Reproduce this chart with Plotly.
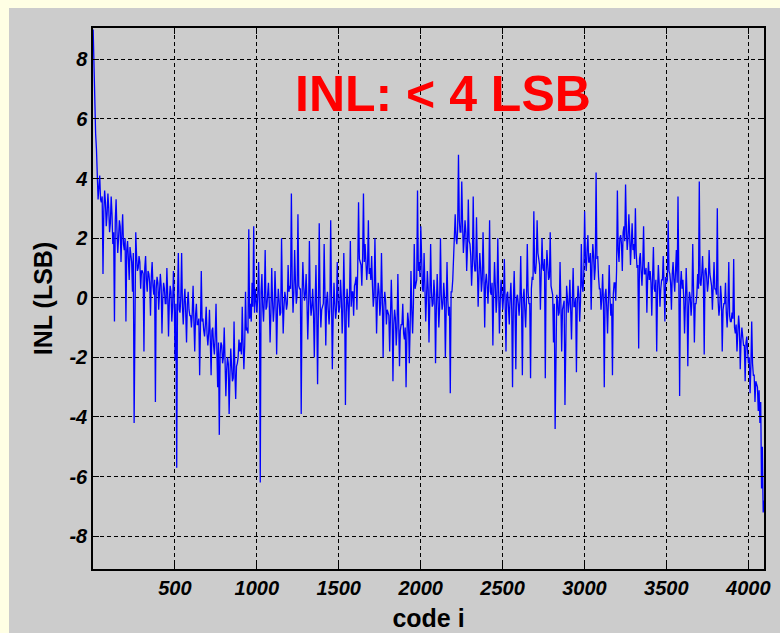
import plotly.graph_objects as go

# INL, two interleaved samplings every 10 codes:
# inl_peaks at codes 1, 11, 21, ... (includes the spikes),
# inl_core  at codes 6, 16, 26, ... (the dense central band)
code_step = 10
inl_peaks = [
    9.0, 6.0, 5.0, 3.3, 4.1, 3.2, 0.8, 3.6, 2.4, 3.5,
    2.2, 3.4, 1.8, -0.8, 3.3, 1.5, 2.6, 1.2, 2.8, 1.6,
    -0.8, 1.9, 0.6, 1.5, 0.2, -4.2, 2.2, 0.9, 1.4, 0.3,
    0.9, -1.8, 1.4, 0.2, 0.8, -0.6, 1.2, 0.1, -3.5, 0.7,
    -0.4, 0.8, -1.2, 0.5, -0.2, 1.0, -1.3, 0.4, -0.8, 0.9,
    -2.1, -5.7, 1.5, -0.5, 1.5, -0.9, 0.3, -1.5, 0.2, -0.6,
    -1.0, 0.4, -1.8, -0.2, -0.9, -2.6, 0.9, -0.7, -1.3, -0.3,
    -1.6, -0.4, -2.6, -1.0, -1.9, -0.2, -3.0, -4.6, -1.5, -2.2,
    -1.0, -3.3, -2.0, -3.9, -1.7, -2.8, -0.8, -3.4, -2.2, -1.4,
    -1.5, -0.3, -2.4, 0.2, -1.0, 2.3, -0.2, 0.5, 2.4, 0.3,
    -0.5, 1.2, -6.2, 0.8, -0.8, 1.6, -0.3, 0.5, -1.5, 1.0,
    -0.8, 0.9, -1.9, 0.3, -0.6, 2.0, -1.2, 0.2, -0.4, 1.1,
    0.4, 3.5, -0.5, 1.6, -0.2, 2.8, 0.3, -3.9, 1.2, -0.1,
    0.8, -1.4, 1.9, -0.6, 0.3, -2.0, 1.1, -2.9, 2.5, -1.0,
    -0.3, 1.8, -1.6, 0.2, -0.9, 2.6, -2.4, 0.5, -0.7, 1.2,
    -0.5, 0.6, -1.2, 1.5, -3.6, 0.3, -1.0, 1.9, 0.2, -0.6,
    0.5, -0.4, 3.2, 1.2, 0.4, 3.5, 1.8, 0.6, 2.6, 1.0,
    1.4, -0.3, 2.0, -1.2, 0.5, -0.6, 1.5, -2.0, 0.2, -0.9,
    -0.5, -1.8, 0.6, -2.8, -0.4, -1.6, 0.8, -2.3, -0.9, -0.2,
    -1.4, -3.0, -0.5, -2.2, 0.9, -1.2, 1.8, 0.5, 3.6, 1.2,
    2.4, 0.3, 1.5, -0.8, 0.9, -1.5, 1.8, -0.3, 0.6, -2.2,
    0.8, -1.0, 2.0, -0.4, 0.5, -2.0, 1.2, -0.6, -3.2, 0.2,
    1.3, 2.8, 1.8, 4.8, 2.2, 3.9, 1.5, 2.6, 0.9, 3.3,
    1.8, 0.4, 3.4, 0.9, 2.7, -0.3, 1.5, 0.2, 2.2, -1.0,
    0.8, -0.2, 2.6, 0.1, -1.6, 1.2, -0.5, 2.0, -1.2, 0.6,
    -0.4, 1.3, -1.8, 0.2, -0.9, 0.5, -3.0, 0.9, -2.4, 0.1,
    -0.6, 1.4, -2.6, 0.3, -1.0, 1.8, -0.2, -2.7, 0.7, 2.9,
    0.8, 2.6, 1.3, -0.4, 2.0, 0.9, -2.7, 1.6, 0.6, 2.2,
    0.2, -1.5, -4.4, 0.1, -0.6, 1.2, -1.8, -0.2, -3.6, 0.4,
    -0.5, 0.6, -1.4, 1.0, -0.3, -2.5, 0.4, -0.8, 1.8, 0.2,
    2.9, 0.9, 2.1, 1.2, -0.4, 1.8, 0.6, 4.2, 1.4, 0.3,
    -0.4, 0.8, -3.0, 0.3, -1.2, 1.1, -0.6, -2.6, 0.5, -0.1,
    3.6, 1.2, 2.1, 0.9, 2.4, 3.8, 1.6, 2.8, 1.1, 2.5,
    1.8, 3.0, 1.0, -1.7, 1.5, 0.4, 2.4, 0.8, -0.5, 1.2,
    0.9, -0.6, 1.7, 0.2, -1.8, 1.1, -0.3, 0.6, 1.4, -0.8,
    0.5, 2.6, 0.8, -0.4, 1.2, 0.2, 1.6, 3.4, -3.3, 0.9,
    0.6, -1.2, 1.0, -2.3, 0.2, -0.6, 1.8, -1.5, -0.2, 0.8,
    3.9, 0.4, 1.4, -1.9, 1.0, 0.2, 1.6, 0.6, -0.4, 1.2,
    0.3, 3.0, -0.6, 0.4, -1.8, -0.2, 0.5, -1.0, 1.2, -0.8,
    -0.5, 1.3, -1.2, -1.8, -0.6, -2.4, -1.0, -1.6, -2.8, -1.3,
    -2.2, -3.2, -0.8, -2.6, -3.5, -2.9, -3.8, -4.2, -6.4, -7.2,
]
inl_core = [
    7.5, 5.5, 4.1, 3.7, 3.3, 3.4, 2.9, 3.2, 2.8, 3.0,
    2.5, 2.8, 2.2, 2.6, 2.3, 2.0, 2.4, 2.1, 1.8, 2.0,
    1.6, 1.3, 1.7, 1.2, 1.5, 1.1, 1.4, 1.0, 1.2, 0.9,
    0.8, 1.0, 0.6, 0.9, 0.5, 0.7, 0.4, 0.6, 0.3, 0.5,
    0.2, 0.4, 0.0, 0.3, -0.2, 0.1, -0.1, 0.2, -0.3, 0.0,
    -0.2, 0.1, -0.4, 0.0, -0.3, -0.1, -0.5, -0.2, -0.4, -0.6,
    -0.5, -0.8, -0.6, -0.9, -0.7, -1.0, -0.8, -1.1, -0.9, -1.2,
    -1.2, -1.4, -1.1, -1.6, -1.3, -1.7, -1.5, -1.9, -1.6, -2.0,
    -2.1, -2.4, -2.2, -2.6, -2.3, -2.7, -2.5, -2.3, -2.0, -1.8,
    -1.9, -1.5, -1.6, -1.1, -1.2, -0.7, -0.8, -0.3, -0.5, -0.1,
    0.1, -0.2, 0.2, -0.3, 0.0, -0.4, 0.1, -0.2, -0.5, -0.1,
    -0.3, 0.0, -0.4, -0.1, -0.5, 0.1, -0.3, 0.0, -0.2, 0.2,
    0.3, 0.6, 0.2, 0.5, 0.1, 0.4, 0.3, 0.0, 0.4, 0.1,
    -0.1, -0.4, 0.0, -0.3, -0.5, -0.2, -0.6, -0.3, -0.1, -0.4,
    -0.2, -0.5, -0.1, -0.4, -0.3, 0.0, -0.6, -0.2, -0.4, -0.1,
    -0.3, 0.0, -0.4, -0.1, -0.5, -0.2, 0.1, -0.3, 0.2, 0.4,
    0.7, 1.0, 1.3, 1.1, 1.4, 1.2, 0.9, 1.1, 0.8, 0.6,
    0.4, 0.1, 0.3, -0.1, 0.2, -0.2, 0.0, -0.3, -0.1, -0.4,
    -0.6, -0.8, -0.5, -0.9, -0.7, -1.0, -0.8, -1.1, -0.9, -1.2,
    -1.0, -1.3, -0.8, -1.0, -0.4, -0.2, 0.3, 0.6, 0.9, 0.7,
    0.5, 0.2, 0.4, 0.0, 0.3, -0.1, 0.2, -0.2, 0.1, -0.3,
    0.0, -0.3, 0.1, -0.2, 0.0, -0.4, -0.1, -0.3, 0.2, 0.6,
    1.5, 2.0, 2.3, 2.6, 2.2, 2.5, 2.0, 2.2, 1.7, 1.9,
    1.4, 1.1, 1.3, 0.9, 1.2, 0.7, 1.0, 0.6, 0.8, 0.5,
    0.4, 0.6, 0.2, 0.5, 0.1, 0.4, 0.0, 0.3, -0.1, 0.2,
    0.0, -0.2, 0.1, -0.3, 0.0, -0.4, -0.1, -0.3, 0.0, -0.2,
    -0.1, -0.3, 0.0, -0.4, -0.1, 0.2, -0.2, 0.3, 0.6, 0.9,
    1.2, 1.5, 1.1, 1.4, 1.0, 1.3, 0.8, 1.1, 0.7, 0.4,
    0.1, -0.2, -0.4, -0.1, -0.5, -0.2, -0.4, -0.1, -0.3, 0.0,
    -0.2, -0.4, -0.1, -0.3, 0.0, -0.2, 0.1, -0.1, 0.4, 0.8,
    1.3, 1.6, 1.2, 1.5, 1.1, 1.4, 1.0, 1.3, 0.7, 0.3,
    0.0, -0.2, 0.1, -0.3, -0.1, 0.0, -0.2, 0.1, 0.5, 0.9,
    1.6, 2.0, 1.8, 2.2, 1.9, 2.3, 2.0, 2.1, 1.8, 1.6,
    1.3, 1.5, 1.1, 1.3, 0.9, 1.1, 0.8, 1.0, 0.7, 0.6,
    0.5, 0.7, 0.3, 0.6, 0.2, 0.5, 0.3, 0.6, 0.4, 0.7,
    0.6, 0.9, 0.5, 0.8, 0.6, 0.9, 0.5, 0.7, 0.4, 0.3,
    0.0, -0.2, 0.1, -0.3, 0.0, -0.1, 0.2, -0.2, 0.1, 0.3,
    0.5, 0.8, 0.6, 0.9, 0.7, 0.5, 0.8, 0.4, 0.6, 0.3,
    0.1, -0.1, -0.3, 0.0, -0.4, -0.2, -0.5, -0.3, -0.6, -0.8,
    -0.7, -1.0, -0.9, -1.2, -1.0, -1.4, -1.3, -1.6, -1.5, -1.8,
    -2.0, -2.3, -2.2, -2.6, -2.8, -3.0, -3.1, -3.5, -5.0, -6.8,
]

x_ticks = [500, 1000, 1500, 2000, 2500, 3000, 3500, 4000]
x_tick_labels = ["500", "1000", "1500", "2000", "2500", "3000", "3500", "4000"]
y_ticks = [-8, -6, -4, -2, 0, 2, 4, 6, 8]
y_tick_labels = ["-8", "-6", "-4", "-2", "0", "2", "4", "6", "8"]

title_text = "INL: < 4 LSB"
x_label = "code i"
y_label = "INL (LSB)"

# interleave the two samplings in code order
codes, inl = [], []
for i, (p, c) in enumerate(zip(inl_peaks, inl_core)):
    codes += [1 + code_step * i, 6 + code_step * i]
    inl += [p, c]

fig = go.Figure()
fig.add_trace(go.Scatter(
    x=codes, y=inl, mode="lines",
    line=dict(color="#0000FF", width=1.3),
    hoverinfo="skip", showlegend=False,
))

tickfont = dict(family="Liberation Sans, Arial, sans-serif", size=20,
                color="#000000", weight="bold", style="italic")
titlefont = dict(family="Liberation Sans, Arial, sans-serif", size=25,
                 color="#000000", weight="bold")

axis_common = dict(
    showline=True, linecolor="#000000", linewidth=1.5, mirror="ticks",
    ticks="inside", ticklen=6, tickwidth=1.2, tickcolor="#000000",
    showgrid=True, gridcolor="#000000", gridwidth=1.3, griddash="4px,3px",
    zeroline=False, tickfont=tickfont,
)

fig.update_xaxes(range=[0, 4096], tickvals=x_ticks, ticktext=x_tick_labels,
                 title=dict(text=x_label, font=titlefont, standoff=12),
                 **axis_common)
fig.update_yaxes(range=[-9.1, 9.05], tickvals=y_ticks, ticktext=y_tick_labels,
                 title=dict(text=y_label, font=titlefont, standoff=10),
                 **axis_common)

fig.add_annotation(x=2134, y=6.83, xref="x", yref="y", text=title_text,
                   showarrow=False,
                   font=dict(family="Liberation Sans, Arial, sans-serif",
                             size=50, color="#FF0000", weight="bold"))

# gray MATLAB-like figure panel over the light-yellow page
fig.add_shape(type="rect", xref="paper", yref="paper",
              x0=-0.1252, x1=1.05, y0=-0.2, y1=1.037,
              fillcolor="#CCCCCC", line=dict(width=0), layer="below")

fig.update_layout(
    width=780, height=633,
    margin=dict(l=93, r=16, t=28, b=64, autoexpand=False),
    paper_bgcolor="#FFFFE4", plot_bgcolor="#FFFFFF",
)

fig.write_html(
    "out.html",
    config={"displayModeBar": False},
    post_script="document.body.style.margin='0';"
                "document.body.style.overflow='hidden';"
                "document.body.style.background='#FFFFE4';",
)
